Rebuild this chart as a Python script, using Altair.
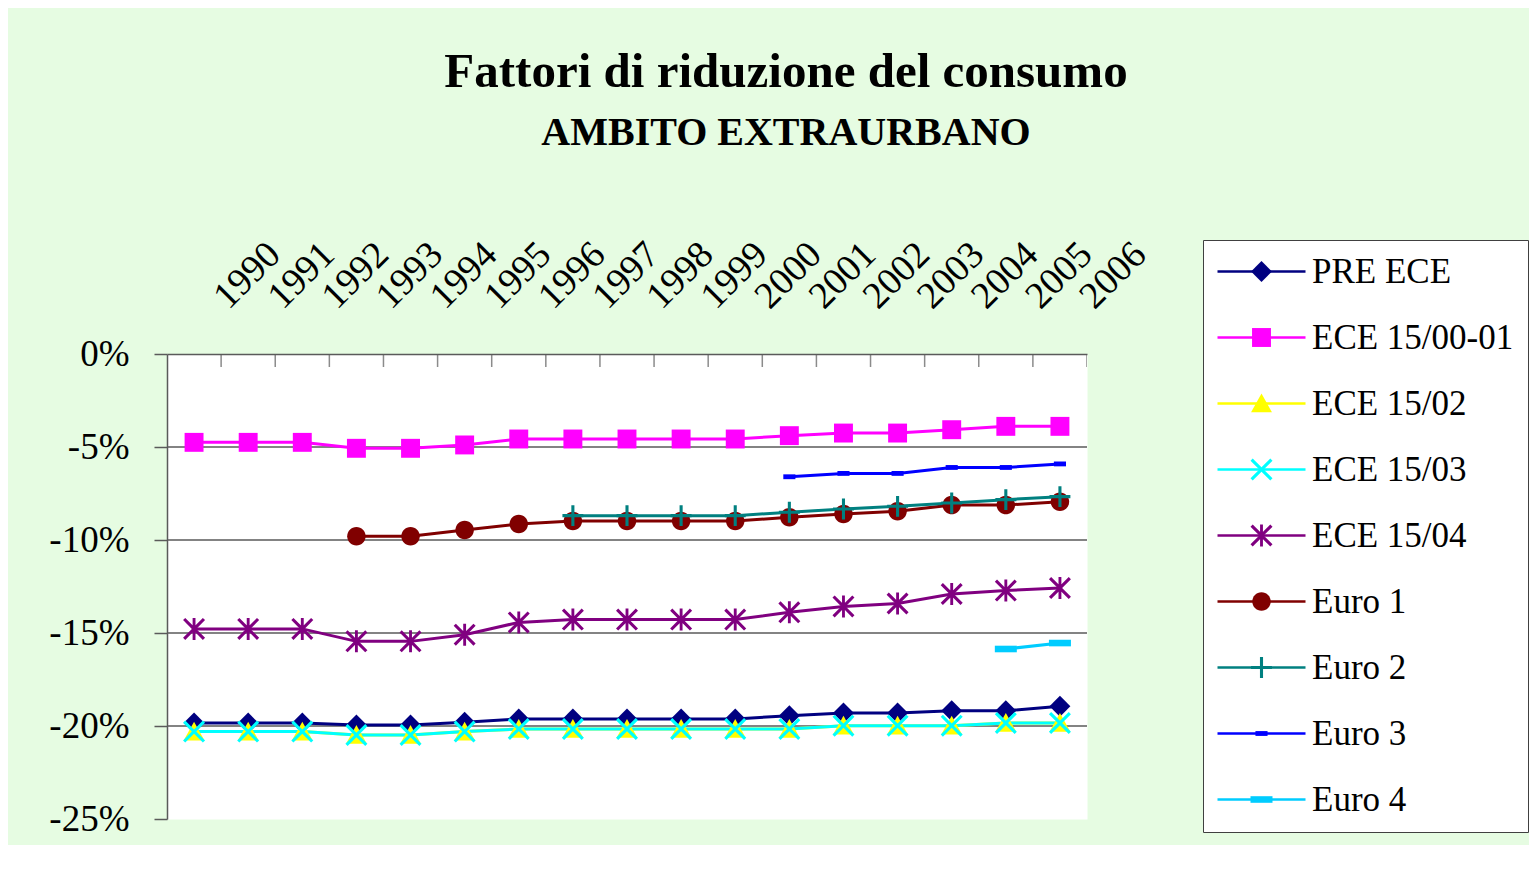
import altair as alt
import pandas as pd

# ---------------- data ----------------
years = list(range(1990, 2007))
series_names = ["PRE ECE", "ECE 15/00-01", "ECE 15/02", "ECE 15/03", "ECE 15/04",
                "Euro 1", "Euro 2", "Euro 3", "Euro 4"]

pre_ece = [-19.84, -19.84, -19.84, -19.95, -19.95, -19.8, -19.62, -19.62, -19.62,
           -19.62, -19.62, -19.45, -19.3, -19.3, -19.18, -19.18, -18.94]
ece_15_00_01 = [-4.75, -4.75, -4.75, -5.07, -5.07, -4.89, -4.57, -4.57, -4.57,
                -4.57, -4.57, -4.39, -4.25, -4.25, -4.07, -3.89, -3.89]
ece_15_02 = [-20.3, -20.3, -20.3, -20.48, -20.48, -20.3, -20.16, -20.16, -20.16,
             -20.16, -20.16, -20.16, -19.98, -19.98, -19.98, -19.84, -19.84]
ece_15_03 = [-20.3, -20.3, -20.3, -20.48, -20.48, -20.3, -20.16, -20.16, -20.16,
             -20.16, -20.16, -20.16, -19.98, -19.98, -19.98, -19.84, -19.84]
ece_15_04 = [-14.78, -14.78, -14.78, -15.45, -15.45, -15.09, -14.43, -14.28, -14.28,
             -14.28, -14.28, -13.89, -13.57, -13.41, -12.9, -12.72, -12.58]
euro_1 = [None, None, None, -9.8, -9.8, -9.46, -9.14, -8.98, -8.98,
          -8.98, -8.98, -8.78, -8.6, -8.46, -8.12, -8.12, -7.94]
euro_2 = [None, None, None, None, None, None, None, -8.69, -8.69,
          -8.69, -8.69, -8.51, -8.33, -8.19, -8.01, -7.83, -7.67]
euro_3 = [None, None, None, None, None, None, None, None, None,
          None, None, -6.6, -6.42, -6.42, -6.1, -6.1, -5.91]
euro_4 = [None, None, None, None, None, None, None, None, None,
          None, None, None, None, None, None, -15.86, -15.54]

all_series = [pre_ece, ece_15_00_01, ece_15_02, ece_15_03, ece_15_04,
              euro_1, euro_2, euro_3, euro_4]

colors = ["#000080", "#FF00FF", "#FFFF00", "#00FFFF", "#800080",
          "#800000", "#008080", "#0000FF", "#00CCFF"]

y_ticks = [0, -5, -10, -15, -20, -25]

# ---------------- marker shapes (unit box -1..1) ----------------
def x_shape(w):
    return (f"M-1,{-1+w}L{-1+w},-1L0,{-w}L{1-w},-1L1,{-1+w}L{w},0L1,{1-w}"
            f"L{1-w},1L0,{w}L{-1+w},1L-1,{1-w}L{-w},0Z")

def plus_shape(t, a):
    return (f"M{-t},{-a}L{t},{-a}L{t},{-t}L{a},{-t}L{a},{t}L{t},{t}L{t},{a}"
            f"L{-t},{a}L{-t},{t}L{-a},{t}L{-a},{-t}L{-t},{-t}Z")

r = 0.84
shapes = [
    "M0,-0.95L0.95,0L0,0.95L-0.95,0Z",                      # diamond
    "M-0.86,-0.86L0.86,-0.86L0.86,0.86L-0.86,0.86Z",        # square
    "M0,-0.9L0.95,0.8L-0.95,0.8Z",                          # triangle
    x_shape(0.2),                                           # x
    x_shape(0.2) + "M-0.13,-1L0.13,-1L0.13,1L-0.13,1Z",     # asterisk
    f"M{-r},0A{r},{r},0,1,1,{r},0A{r},{r},0,1,1,{-r},0Z",   # circle
    plus_shape(0.14, 0.95),                                 # plus
    "M-0.55,-0.22L0.55,-0.22L0.55,0.22L-0.55,0.22Z",        # short dash
    "M-1,-0.3L1,-0.3L1,0.3L-1,0.3Z",                        # long dash
]

rows = []
for name, vals in zip(series_names, all_series):
    for yr, v in zip(years, vals):
        if v is not None:
            rows.append({"year": yr, "value": v, "series": name, "serie_line": name})
df = pd.DataFrame(rows)

grid_df = pd.DataFrame({"g": y_ticks[1:-1]})
tick_df = pd.DataFrame({"b": [yr + 0.5 for yr in years], "top": y_ticks[0]})

# ---------------- styling ----------------
FONT = "Liberation Serif"
GRAY = "#5a5a5a"

x_scale = alt.Scale(domain=[years[0] - 0.5, years[-1] + 0.5], nice=False, zero=False)
y_scale = alt.Scale(domain=[y_ticks[-1], y_ticks[0]], nice=False, zero=False)

x_axis = alt.Axis(orient="top", values=[yr + 0.5 for yr in years],
                  labelExpr="floor(datum.value) + ''", labelAngle=315,
                  labelAlign="left", labelBaseline="alphabetic", labelPadding=44,
                  labelOffset=7,
                  labelFont=FONT, labelFontSize=38, labelColor="black",
                  labelOverlap=False, labelFlush=False, labelBound=False,
                  ticks=False, tickSize=0, grid=False, domainColor=GRAY,
                  domainWidth=1.5, title=None)
y_axis = alt.Axis(values=y_ticks, labelExpr="datum.value + '%'",
                  labelFont=FONT, labelFontSize=37, labelColor="black",
                  labelPadding=25, tickSize=13, tickColor=GRAY, tickWidth=1.5,
                  domainColor=GRAY, domainWidth=1.5, grid=False,
                  labelOverlap=False, labelFlush=False, labelBound=False, title=None)

LEG_X, LEG_Y = 1036, -114
common_leg = dict(title=None, orient="none", legendX=LEG_X, legendY=LEG_Y,
                  symbolSize=484, symbolOffset=27, padding=14,
                  labelFont=FONT, labelFontSize=35, labelColor="black",
                  labelOffset=33, rowPadding=30)

# marker legend: carries the box and the visible labels
legend_pts = alt.Legend(symbolStrokeWidth=0, fillColor="white", strokeColor="#404040",
                        labelLimit=500, zindex=0, **common_leg)
# line legend: only the line through each marker, drawn on top (no visible text)
legend_lines = alt.Legend(symbolType="M-4,0L4,0", symbolStrokeWidth=2.5,
                          labelExpr="''", labelLimit=60, zindex=1, **common_leg)

grid = alt.Chart(grid_df).mark_rule(color=GRAY, strokeWidth=1.3).encode(
    y=alt.Y("g:Q", scale=y_scale, axis=y_axis)
)

inner_ticks = alt.Chart(tick_df).mark_tick(
    orient="vertical", size=26, thickness=1.5, color=GRAY, clip=True
).encode(
    x=alt.X("b:Q", scale=x_scale, axis=x_axis),
    y=alt.Y("top:Q", scale=y_scale, axis=y_axis),
)

lines = alt.Chart(df).mark_line(strokeWidth=3).encode(
    x=alt.X("year:Q", scale=x_scale, axis=x_axis),
    y=alt.Y("value:Q", scale=y_scale, axis=y_axis),
    stroke=alt.Stroke("serie_line:N", sort=series_names,
                      scale=alt.Scale(range=colors), legend=legend_lines),
)

points = alt.Chart(df).mark_point(filled=True, size=484, opacity=1, strokeWidth=0).encode(
    x=alt.X("year:Q", scale=x_scale, axis=x_axis),
    y=alt.Y("value:Q", scale=y_scale, axis=y_axis),
    color=alt.Color("series:N", scale=alt.Scale(domain=series_names, range=colors),
                    legend=legend_pts),
    shape=alt.Shape("series:N", scale=alt.Scale(domain=series_names, range=shapes),
                    legend=legend_pts),
)

chart = alt.layer(grid, inner_ticks, lines, points).properties(
    width=920,
    height=465,
    padding={"left": 40, "top": 40, "right": 0, "bottom": 8},
    background="#e6fce2",
    title=alt.Title(
        text="Fattori di riduzione del consumo",
        subtitle="AMBITO EXTRAURBANO",
        font=FONT, fontSize=49, fontWeight="bold", color="black",
        subtitleFont=FONT, subtitleFontSize=40, subtitleFontWeight="bold",
        subtitleColor="black", subtitlePadding=16,
        anchor="middle", frame="group", dx=159, offset=82,
    ),
).configure_view(fill="white", stroke="transparent")

chart.save("out.html", embed_options={"renderer": "svg", "actions": False})
